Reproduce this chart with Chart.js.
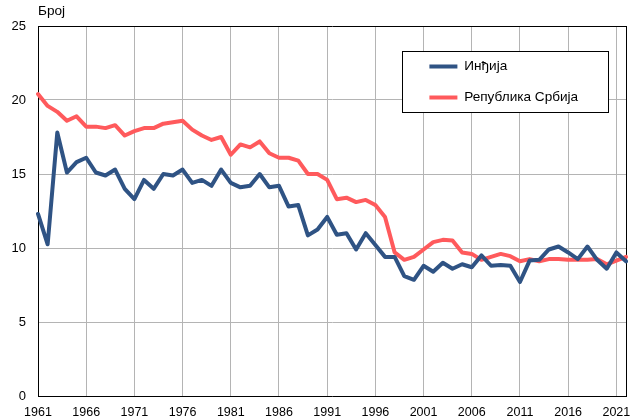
<!DOCTYPE html>
<html>
<head>
<meta charset="utf-8">
<script src="https://cdn.jsdelivr.net/npm/chart.js@4"></script>
<style>
  html, body { margin: 0; padding: 0; background: #ffffff; }
  #wrap { width: 635px; height: 419px; }
</style>
</head>
<body>
<div id="wrap"><canvas id="c" width="635" height="419"></canvas></div>
<script>
// ---- data ----
const years = [
  '1961','1962','1963','1964','1965','1966','1967','1968','1969','1970',
  '1971','1972','1973','1974','1975','1976','1977','1978','1979','1980',
  '1981','1982','1983','1984','1985','1986','1987','1988','1989','1990',
  '1991','1992','1993','1994','1995','1996','1997','1998','1999','2000',
  '2001','2002','2003','2004','2005','2006','2007','2008','2009','2010',
  '2011','2012','2013','2014','2015','2016','2017','2018','2019','2020',
  '2021','2022'
];
const indjija = [
  12.3, 10.25, 17.8, 15.1, 15.8, 16.1, 15.1, 14.9, 15.3, 14.0,
  13.3, 14.6, 14.0, 15.0, 14.9, 15.3, 14.4, 14.6, 14.2, 15.3,
  14.4, 14.1, 14.2, 15.0, 14.1, 14.2, 12.8, 12.9, 10.85, 11.25,
  12.1, 10.9, 11.0, 9.9, 11.0, 10.2, 9.4, 9.4, 8.1, 7.85,
  8.8, 8.4, 9.0, 8.6, 8.9, 8.7, 9.5, 8.8, 8.85, 8.8,
  7.7, 9.15, 9.2, 9.9, 10.1, 9.7, 9.25, 10.1, 9.2, 8.6,
  9.7, 9.1
];
const serbia = [
  20.4, 19.6, 19.2, 18.6, 18.9, 18.2, 18.2, 18.1, 18.3, 17.6,
  17.9, 18.1, 18.1, 18.4, 18.5, 18.6, 18.0, 17.6, 17.3, 17.5,
  16.3, 17.0, 16.8, 17.2, 16.4, 16.1, 16.1, 15.9, 15.0, 15.0,
  14.6, 13.3, 13.4, 13.1, 13.25, 12.9, 12.1, 9.7, 9.2, 9.4,
  9.9, 10.4, 10.55, 10.5, 9.7, 9.6, 9.2, 9.4, 9.6, 9.45,
  9.1, 9.25, 9.1, 9.25, 9.25, 9.2, 9.2, 9.2, 9.25, 8.9,
  9.15, 9.4
];
const seriesNames = ['Инђија', 'Република Србија'];
const yTicks = [0, 5, 10, 15, 20, 25];
const yAxisLabel = 'Број';

// ---- styling ----
const FONT = 'Arial, "Liberation Sans", sans-serif';
const BLUE = '#2F5384';
const RED = '#FF5A5C';
const GRID = '#b4b4b4';

const legendBoxPlugin = {
  id: 'legendBox',
  afterLayout(chart) {
    const lg = chart.legend;
    if (!lg) return;
    lg.left = 412; lg.right = 608;
    lg.top = 42.2; lg.bottom = 300;
    lg.width = lg.right - lg.left; lg.height = lg.bottom - lg.top;
    if (!lg._boxWrapped) {
      const orig = lg.draw.bind(lg);
      lg.draw = function () {
        const ctx = chart.ctx;
        ctx.save();
        ctx.fillStyle = '#ffffff';
        ctx.fillRect(402, 51, 206, 61);
        ctx.strokeStyle = '#000000';
        ctx.lineWidth = 1;
        ctx.strokeRect(402.5, 51.5, 206, 61);
        ctx.restore();
        orig();
      };
      lg._boxWrapped = true;
    }
  },
  afterDraw(chart) {
    const ctx = chart.ctx;
    ctx.save();
    ctx.font = '13.6px ' + FONT;
    ctx.fillStyle = '#000';
    ctx.textAlign = 'left';
    ctx.textBaseline = 'middle';
    ctx.fillText(yAxisLabel, chart.chartArea.left, 11);
    ctx.restore();
  }
};

new Chart(document.getElementById('c'), {
  type: 'line',
  data: {
    labels: years,
    datasets: [
      {
        label: seriesNames[0],
        data: indjija,
        borderColor: BLUE,
        backgroundColor: BLUE,
        borderWidth: 4,
        pointRadius: 0,
        tension: 0,
        borderCapStyle: 'round',
        borderJoinStyle: 'round'
      },
      {
        label: seriesNames[1],
        data: serbia,
        borderColor: RED,
        backgroundColor: RED,
        borderWidth: 4,
        pointRadius: 0,
        tension: 0,
        borderCapStyle: 'round',
        borderJoinStyle: 'round'
      }
    ]
  },
  options: {
    responsive: false,
    devicePixelRatio: 1,
    animation: false,
    layout: { padding: { left: 0, top: 26, right: 7, bottom: 0 } },
    plugins: {
      legend: {
        display: true,
        position: 'chartArea',
        align: 'start',
        labels: {
          usePointStyle: true,
          pointStyle: 'line',
          pointStyleWidth: 28,
          boxHeight: 13.6,
          padding: 17.4,
          color: '#000',
          font: { family: FONT, size: 13.6 }
        }
      },
      tooltip: { enabled: false },
      title: { display: false }
    },
    scales: {
      x: {
        type: 'category',
        offset: false,
        afterFit(scale) { scale.height = 23; },
        border: { display: true, color: '#000', width: 1 },
        grid: {
          drawTicks: false,
          lineWidth: 1,
          color(ctx) {
            const i = ctx.index;
            if (i === years.length - 1) return '#000';
            return i % 5 === 0 ? GRID : 'rgba(0,0,0,0)';
          }
        },
        ticks: {
          autoSkip: false,
          maxRotation: 0,
          minRotation: 0,
          padding: 9,
          color: '#000',
          font: { family: FONT, size: 12.5 },
          callback(v, i) { return i % 5 === 0 ? years[i] : ''; }
        }
      },
      y: {
        min: 0,
        max: 25,
        afterFit(scale) { scale.width = 38; },
        afterBuildTicks(scale) { scale.ticks = yTicks.map(v => ({ value: v })); },
        border: { display: true, color: '#000', width: 1 },
        grid: {
          drawTicks: false,
          lineWidth: 1,
          color(ctx) { return ctx.tick && ctx.tick.value === 25 ? '#000' : GRID; }
        },
        ticks: {
          padding: 12,
          color: '#000',
          font: { family: FONT, size: 13 }
        }
      }
    }
  },
  plugins: [legendBoxPlugin]
});
</script>
</body>
</html>
